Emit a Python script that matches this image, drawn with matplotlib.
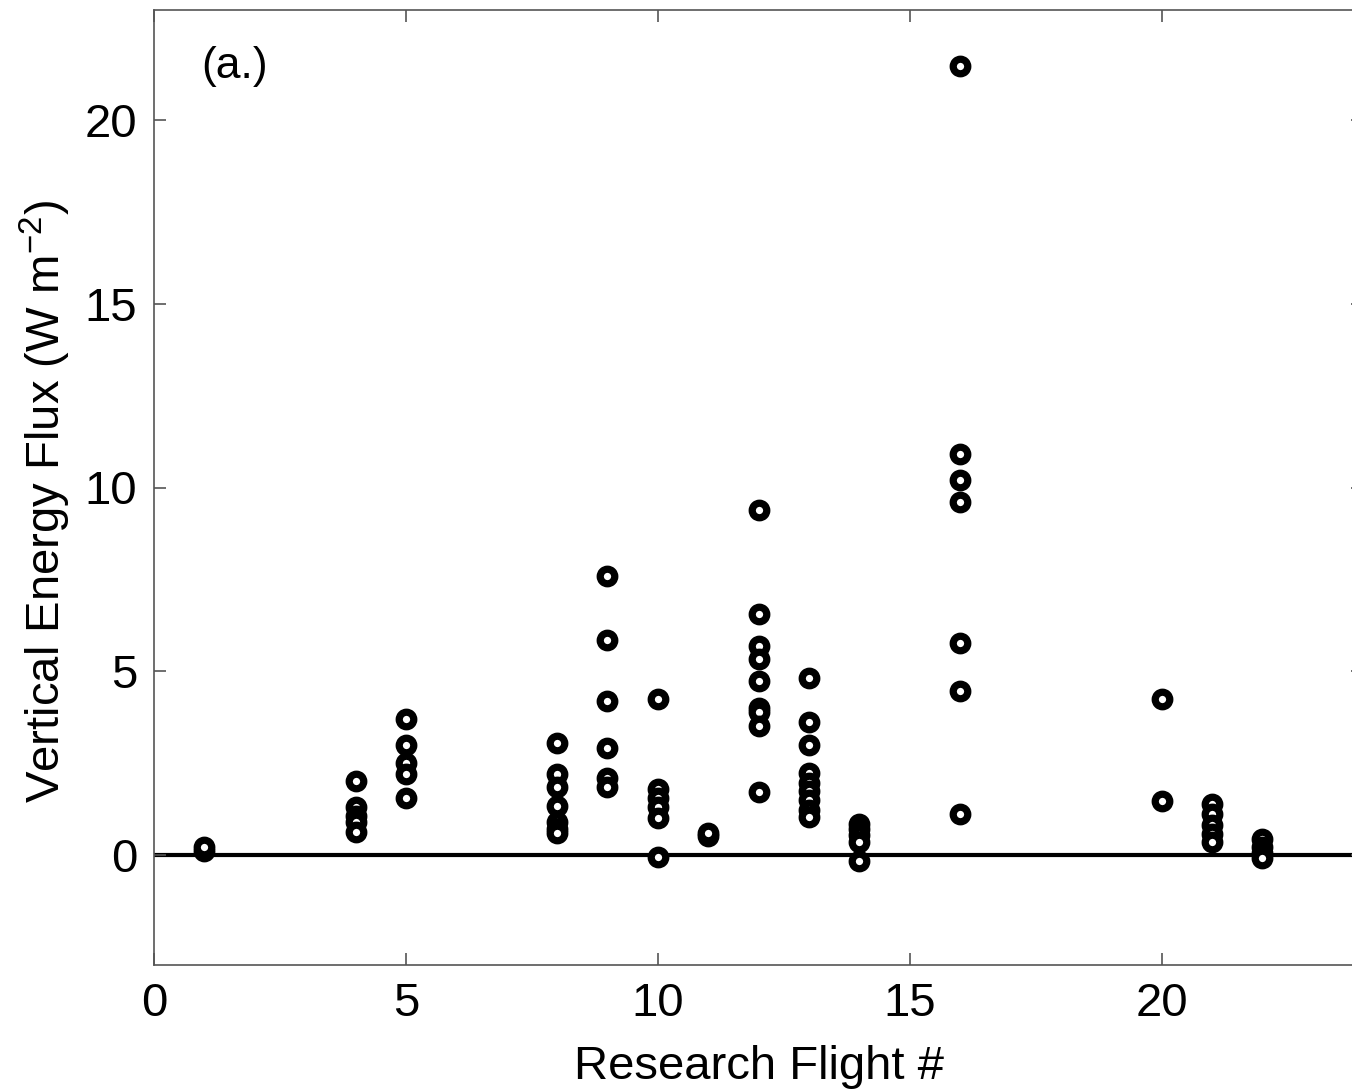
import matplotlib
matplotlib.use("Agg")
import matplotlib.pyplot as plt
import numpy as np

plt.rcParams['font.family'] = ['Liberation Sans', 'DejaVu Sans']
plt.rcParams['mathtext.fontset'] = 'custom'
plt.rcParams['mathtext.rm'] = 'Liberation Sans'

# Research flight number and vertical energy flux values (W m^-2)
rf1 = [0.1, 0.2]
rf4 = [2.0, 1.3, 1.05, 0.9, 0.62]
rf5 = [3.7, 3.0, 2.5, 2.2, 1.55]
rf8 = [3.05, 2.2, 1.85, 1.33, 0.9, 0.7, 0.6]
rf9 = [7.6, 5.85, 4.2, 2.9, 2.1, 1.85]
rf10 = [4.25, 1.8, 1.55, 1.3, 1.0, -0.05]
rf11 = [0.5, 0.6]
rf12 = [9.38, 6.55, 5.68, 5.33, 4.73, 4.0, 3.9, 3.5, 1.7]
rf13 = [4.82, 3.62, 3.0, 2.23, 1.95, 1.74, 1.5, 1.22, 1.03]
rf14 = [0.85, 0.7, 0.55, 0.35, -0.17]
rf16 = [21.47, 10.9, 10.2, 9.6, 5.78, 4.46, 1.1]
rf20 = [4.24, 1.46]
rf21 = [1.38, 1.1, 0.82, 0.57, 0.35]
rf22 = [0.43, 0.2, 0.05, -0.08]

flights = [1, 4, 5, 8, 9, 10, 11, 12, 13, 14, 16, 20, 21, 22]
fluxes = [rf1, rf4, rf5, rf8, rf9, rf10, rf11, rf12, rf13, rf14, rf16, rf20, rf21, rf22]

xticks = [0, 5, 10, 15, 20]
yticks = [0, 5, 10, 15, 20]

fig = plt.figure(figsize=(13.52, 10.9), dpi=100)
ax = fig.add_axes([154/1352, 125/1090, (1363-154)/1352, (965-10)/1090])

ax.axhline(0, color='black', lw=3.0, zorder=1)

for f, vals in zip(flights, fluxes):
    ax.plot([f]*len(vals), vals, linestyle='none', marker='o', ms=10.5, mew=5.2,
            mec='black', mfc='white', zorder=3)

ax.set_xlim(0, 24)
ax.set_ylim(-3, 23)
ax.set_xticks(xticks)
ax.set_yticks(yticks)
ax.tick_params(direction='in', length=8.5, width=1.2, color='#555555',
               labelsize=34, top=True, right=True, pad=12)
for s in ax.spines.values():
    s.set_color('#555555')
    s.set_linewidth(1.2)

ax.set_xlabel('Research Flight #', fontsize=34, labelpad=14)
ax.set_ylabel('Vertical Energy Flux (W m$^{\\mathregular{-2}}$)', fontsize=34)
ax.yaxis.set_label_coords(-0.067, 0.485)
ax.text(1.6, 21.45, '(a.)', fontsize=32, ha='center', va='center')

fig.savefig('out.png', dpi=100)
